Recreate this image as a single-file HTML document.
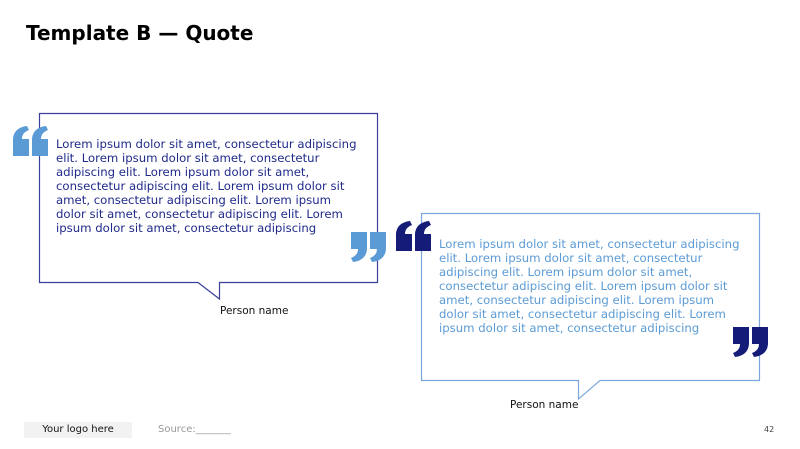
<!DOCTYPE html>
<html><head><meta charset="utf-8"><style>
body{margin:0;width:800px;height:449px;background:#fff;position:relative;overflow:hidden;font-family:"DejaVu Sans","Liberation Sans",sans-serif}
.t{position:absolute;white-space:nowrap}
.q{position:absolute;font-size:11.7px;line-height:14px}
</style></head><body>
<div class="t" style="left:26px;top:21px;font-size:20px;font-weight:bold;color:#000">Template B — Quote</div>
<svg width="800" height="449" style="position:absolute;left:0;top:0">
<defs>
<path id="m" d="M0,30 L0,14 C0,6 5,1 14,0 L16,4 C11,6 9,9 9,13 L16,13 L16,30 Z"/>
</defs>
<path d="M39.5,113.5 H377.5 V282.5 H219.5 V299 L198,282.5 H39.5 Z" fill="none" stroke="#3a3f9a" stroke-width="1.2"/>
<path d="M421.5,213.5 H759.5 V380.5 H600 L578.5,399 V380.5 H421.5 Z" fill="none" stroke="#7aa8dc" stroke-width="1.2"/>
<g fill="#5b9bd5">
<use href="#m" x="13" y="126"/><use href="#m" x="32" y="126"/>
<g transform="translate(386,262) rotate(180)"><use href="#m" x="0" y="0"/><use href="#m" x="19" y="0"/></g>
</g>
<g fill="#151c78">
<use href="#m" x="396" y="221"/><use href="#m" x="415" y="221"/>
<g transform="translate(768,357) rotate(180)"><use href="#m" x="0" y="0"/><use href="#m" x="19" y="0"/></g>
</g>
</svg>
<div class="q" style="left:56px;top:137px;color:#1f2a8a">Lorem ipsum dolor sit amet, consectetur adipiscing<br>elit. Lorem ipsum dolor sit amet, consectetur<br>adipiscing elit. Lorem ipsum dolor sit amet,<br>consectetur adipiscing elit. Lorem ipsum dolor sit<br>amet, consectetur adipiscing elit. Lorem ipsum<br>dolor sit amet, consectetur adipiscing elit. Lorem<br>ipsum dolor sit amet, consectetur adipiscing</div>
<div class="q" style="left:439px;top:237px;color:#5b9bd5">Lorem ipsum dolor sit amet, consectetur adipiscing<br>elit. Lorem ipsum dolor sit amet, consectetur<br>adipiscing elit. Lorem ipsum dolor sit amet,<br>consectetur adipiscing elit. Lorem ipsum dolor sit<br>amet, consectetur adipiscing elit. Lorem ipsum<br>dolor sit amet, consectetur adipiscing elit. Lorem<br>ipsum dolor sit amet, consectetur adipiscing</div>
<div class="t" style="left:220px;top:305px;font-size:10.5px;color:#111">Person name</div>
<div class="t" style="left:510px;top:399px;font-size:10.5px;color:#111">Person name</div>
<div class="t" style="left:24px;top:422px;width:108px;height:16px;background:#f2f2f2;font-size:10px;line-height:16px;text-align:center;color:#111">Your logo here</div>
<div class="t" style="left:158px;top:424px;font-size:10px;color:#999">Source:_______</div>
<div class="t" style="left:764px;top:425px;font-size:8px;color:#444">42</div>
</body></html>
